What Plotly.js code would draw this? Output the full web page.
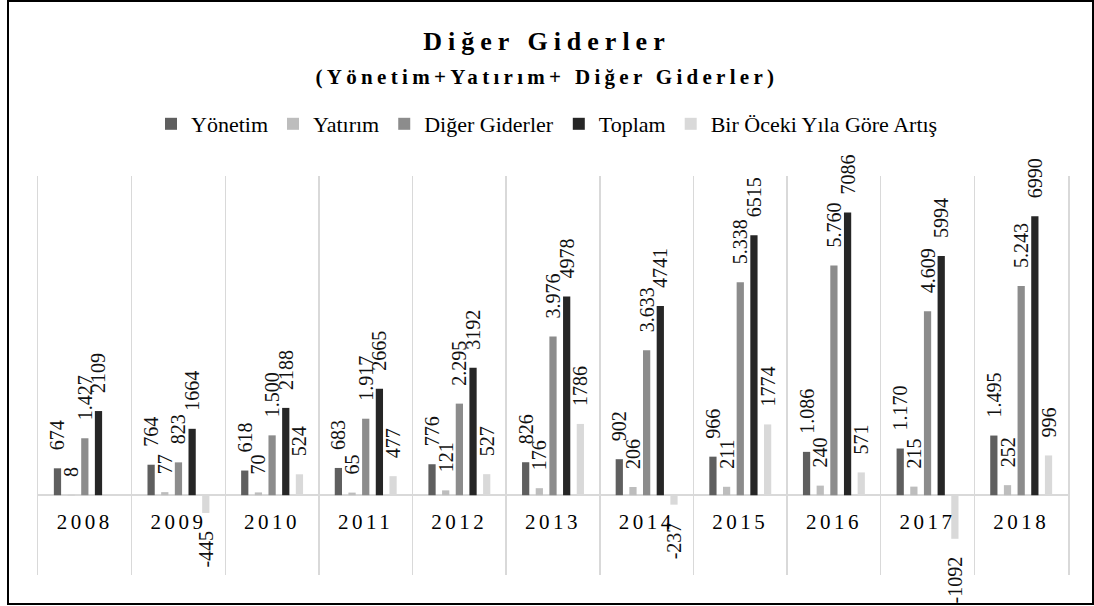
<!DOCTYPE html>
<html>
<head>
<meta charset="utf-8">
<script src="https://cdn.plot.ly/plotly-3.0.1.min.js"></script>
<style>
html,body{margin:0;padding:0;background:#fff;}
#wrap{position:relative;width:1094px;height:606px;overflow:hidden;}
#chart{width:1094px;height:606px;}
#frame{position:absolute;left:7px;top:0;width:1083px;height:601px;border:2px solid #000;pointer-events:none;}
.xtick text{letter-spacing:3.5px;}
</style>
</head>
<body>
<div id="wrap"><div id="chart"></div><div id="frame"></div></div>
<script>
const years = ['2008','2009','2010','2011','2012','2013','2014','2015','2016','2017','2018'];
const yonetim = [674, 764, 618, 683, 776, 826, 902, 966, 1086, 1170, 1495];
const yatirim = [8, 77, 70, 65, 121, 176, 206, 211, 240, 215, 252];
const diger   = [1427, 823, 1500, 1917, 2295, 3976, 3633, 5338, 5760, 4609, 5243];
const toplam  = [2109, 1664, 2188, 2665, 3192, 4978, 4741, 6515, 7086, 5994, 6990];
const artis   = [null, -445, 524, 477, 527, 1786, -237, 1774, 571, -1092, 996];

const seriesNames = ['Yönetim', 'Yatırım', 'Diğer Giderler', 'Toplam', 'Bir Öceki Yıla Göre Artış'];
const seriesColors = ['#5f5f5f', '#bdbdbd', '#8c8c8c', '#262626', '#d9d9d9'];

const FONT = 'Liberation Serif';
const PAD = '\u00a0\u00a0\u00a0';

function dotFmt(v) {
  const s = String(Math.abs(v));
  const out = s.replace(/\B(?=(\d{3})+(?!\d))/g, '.');
  return (v < 0 ? '-' : '') + out;
}
function plainFmt(v) { return String(v); }
function labels(arr, fmt) {
  return arr.map(v => v === null ? '' : (v < 0 ? fmt(v) + PAD : PAD + fmt(v)));
}

const dataSets = [yonetim, yatirim, diger, toplam, artis];
const formats = [dotFmt, plainFmt, dotFmt, plainFmt, plainFmt];

const traces = dataSets.map((vals, i) => ({
  type: 'bar',
  name: seriesNames[i],
  x: years,
  y: vals,
  marker: {color: seriesColors[i], line: {width: 0}},
  text: labels(vals, formats[i]),
  textposition: 'outside',
  textangle: -90,
  constraintext: 'none',
  cliponaxis: false,
  textfont: {family: FONT, size: 20, color: '#111'},
  hoverinfo: 'x+y+name'
}));

const layout = {
  width: 1094,
  height: 606,
  paper_bgcolor: '#fff',
  plot_bgcolor: '#fff',
  margin: {l: 38, r: 26, t: 176, b: 31, pad: 0},
  barmode: 'group',
  bargap: 0.27,
  bargroupgap: 0.47,
  font: {family: FONT, color: '#000'},
  title: {
    text: '<span style="letter-spacing:6px">Diğer Giderler</span><br>' +
          '<span style="font-size:21px;letter-spacing:4.3px">(Yönetim+Yatırım+ Diğer Giderler)</span>',
    font: {family: FONT, size: 26, color: '#000', weight: 'bold'},
    x: 0.5, xref: 'container', xanchor: 'center',
    y: 1 - 50 / 606, yref: 'container', yanchor: 'top'
  },
  showlegend: true,
  legend: {
    orientation: 'h',
    x: 0.5, xref: 'container', xanchor: 'center',
    y: 1 - 124 / 606, yref: 'container', yanchor: 'middle',
    font: {family: FONT, size: 22, color: '#000'},
    traceorder: 'normal',
    bgcolor: 'rgba(0,0,0,0)'
  },
  xaxis: {
    type: 'category',
    tickson: 'boundaries',
    showgrid: true,
    gridcolor: '#d9d9d9',
    gridwidth: 1.5,
    anchor: 'free',
    position: 0.2,
    ticks: '',
    showline: false,
    zeroline: false,
    ticklabelstandoff: 12,
    tickfont: {family: FONT, size: 21, color: '#000'}
  },
  yaxis: {
    range: [-2000, 8000],
    showgrid: false,
    showticklabels: false,
    ticks: '',
    showline: true,
    mirror: true,
    linecolor: '#d9d9d9',
    linewidth: 1.5,
    zeroline: true,
    zerolinecolor: '#d9d9d9',
    zerolinewidth: 2
  }
};

Plotly.newPlot('chart', traces, layout, {displayModeBar: false, staticPlot: true});
</script>
</body>
</html>
